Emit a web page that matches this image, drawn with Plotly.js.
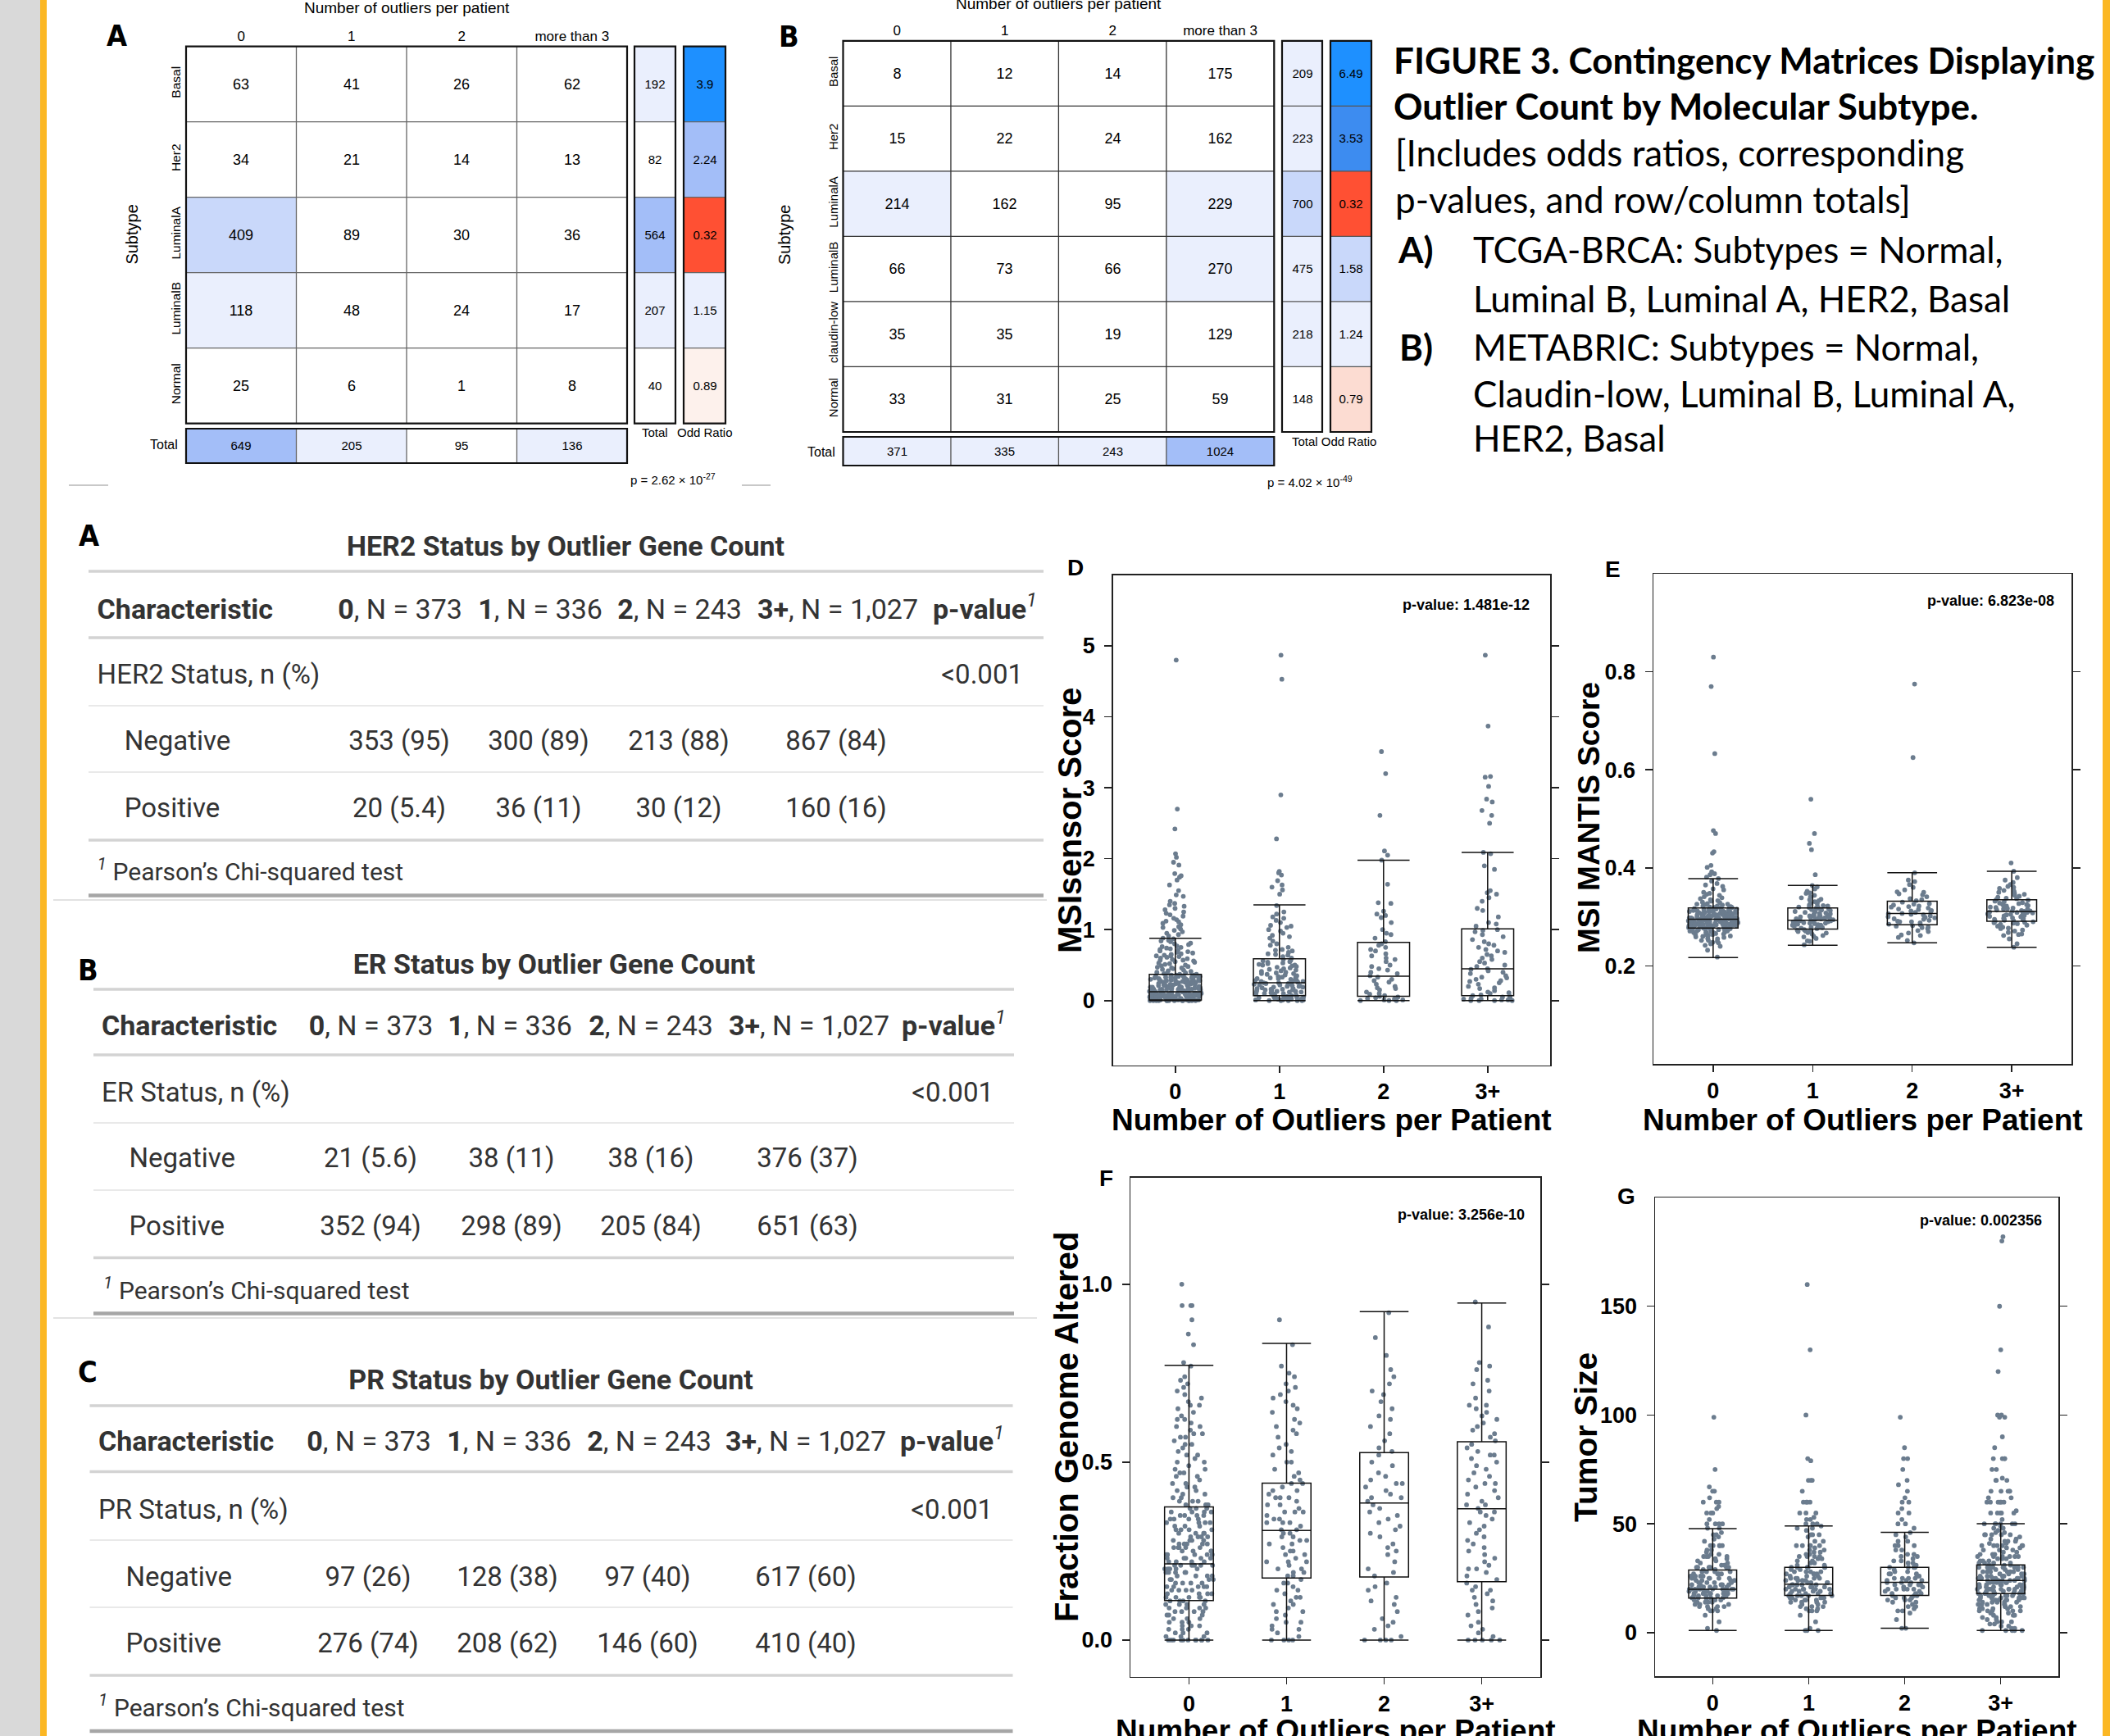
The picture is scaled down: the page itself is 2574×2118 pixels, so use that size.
<!DOCTYPE html>
<html><head><meta charset="utf-8">
<script src="https://cdn.plot.ly/plotly-3.0.1.min.js"></script>
<style>html,body{margin:0;padding:0;background:#fff;}#fig{width:2574px;height:2118px;}</style>
</head><body><div id="fig"></div>
<script>
// ======================= DATA =======================
// Contingency matrices
const outlierCols = ['0', '1', '2', 'more than 3'];
const subtypesA = ['Basal', 'Her2', 'LuminalA', 'LuminalB', 'Normal'];
const countsA = [[63, 41, 26, 62], [34, 21, 14, 13], [409, 89, 30, 36], [118, 48, 24, 17], [25, 6, 1, 8]];
const rowTotalsA = [192, 82, 564, 207, 40];
const colTotalsA = [649, 205, 95, 136];
const oddsA = [3.9, 2.24, 0.32, 1.15, 0.89];
const pTextA = 'p = 2.62 \u00d7 10<sup>-27</sup>';

const subtypesB = ['Basal', 'Her2', 'LuminalA', 'LuminalB', 'claudin-low', 'Normal'];
const countsB = [[8, 12, 14, 175], [15, 22, 24, 162], [214, 162, 95, 229], [66, 73, 66, 270], [35, 35, 19, 129], [33, 31, 25, 59]];
const rowTotalsB = [209, 223, 700, 475, 218, 148];
const colTotalsB = [371, 335, 243, 1024];
const oddsB = [6.49, 3.53, 0.32, 1.58, 1.24, 0.79];
const pTextB = 'p = 4.02 \u00d7 10<sup>-49</sup>';

// Summary tables
const tableHeaders = ['<b>0</b>, N = 373', '<b>1</b>, N = 336', '<b>2</b>, N = 243', '<b>3+</b>, N = 1,027'];
const her2Title = 'HER2 Status by Outlier Gene Count';
const her2Label = 'HER2 Status, n (%)';
const her2Neg = ['353 (95)', '300 (89)', '213 (88)', '867 (84)'];
const her2Pos = ['20 (5.4)', '36 (11)', '30 (12)', '160 (16)'];
const erTitle = 'ER Status by Outlier Gene Count';
const erLabel = 'ER Status, n (%)';
const erNeg = ['21 (5.6)', '38 (11)', '38 (16)', '376 (37)'];
const erPos = ['352 (94)', '298 (89)', '205 (84)', '651 (63)'];
const prTitle = 'PR Status by Outlier Gene Count';
const prLabel = 'PR Status, n (%)';
const prNeg = ['97 (26)', '128 (38)', '97 (40)', '617 (60)'];
const prPos = ['276 (74)', '208 (62)', '146 (60)', '410 (40)'];
const pvalTable = '&lt;0.001';

// Box plots
const boxCats = ['0', '1', '2', '3+'];
const msiD = [
  [0,0,0,0,0,0.01,0,0.02,0.04,0.01,0.03,0,0.06,0.02,0.09,0.05,0.11,0,0.03,0.07,0.01,0.13,0.04,0.08,0.02,0.15,0.1,0.06,0.18,0.12,0.01,0.21,0.14,0.05,0.24,0.17,0.09,0.27,0.11,0.19,0.3,0.07,0.22,0.33,0.13,0.26,0.36,0.16,0.29,0.03,0.38,0.2,0.32,0.12,0.35,0.25,0.08,0.37,0.28,0.02,0.05,0.1,0.14,0.19,0.23,0.31,0.06,0.16,0.04,0.09,0.26,0.18,0.41,0.15,0.44,0.34,0.48,0.23,0.52,0.39,0.56,0.46,0.61,0.5,0.65,0.43,0.69,0.58,0.73,0.54,0.77,0.63,0.81,0.67,0.85,0.72,0.6,0.79,0.88,0.93,0.97,0.91,1.01,0.95,1.04,0.99,1.07,1.12,1.03,1.16,1.09,1.21,1.14,1.25,1.19,1.3,1.33,1.28,1.37,1.4,1.47,1.49,1.55,1.63,1.7,1.74,1.76,1.79,1.91,1.95,2.02,2.07,2.42,2.7,4.8,
   0,0,0.01,0.02,0,0.03,0.05,0.04,0.07,0.06,0.1,0.08,0.12,0.11,0.14,0.13,0.17,0.15,0.2,0.18,0.22,0.21,0.25,0.24,0.28,0.27,0.31,0.3,0.34,0.33,0.36,0.02,0.09,0.16,0.23,0.29,0.35,0.01,0.04,0.12,0.19,0.26,0.32,0.39,0.45,0.51,0.57,0.64,0.7,0.75,0.83,0.47,0.55,0.62,0.68,0.74,0.87,1.11,1.23,1.35,
   0,0,0,0.01,0.02,0.03,0.04,0.05,0.06,0.07,0.08,0.09,0.11,0.13,0.15,0.17,0.19,0.21,0.23,0.25,0.27,0.29,0.31,0.33,0.35,0.37,0.02,0.06,0.1,0.14,0.18,0.22,0.26,0.3,0.34,0.4,0.42,0.46,0.49,0.53,0.57,0.59,0.63,0.66,0.71,0.76,0.8,0.84,0.01,0.05,0.09,0.12,0.16,0.2,0.24,0.28,0.32,0.36,0.03,0.07],
  [0,0,0.01,0,0.02,0.03,0.01,0.05,0.04,0.06,0.02,0.08,0.07,0.1,0.09,0.12,0.05,0.14,0.11,0.16,0.13,0.18,0.15,0.2,0.17,0.22,0.19,0.24,0.21,0.26,0.23,0.28,0.25,0.3,0.27,0.33,0.31,0.36,0.34,0.4,0.38,0.44,0.42,0.48,0.46,0.52,0.5,0.56,0.54,0.6,0.64,0.68,0.66,0.72,0.7,0.75,0.8,0.84,0.9,0.95,0.98,1.0,1.06,1.1,1.13,1.22,1.25,1.34,1.5,1.56,1.6,1.63,1.69,1.77,1.8,1.82,2.28,2.9,4.53,4.87,
   0,0.01,0.03,0.06,0.09,0.13,0.16,0.2,0.24,0.29,0.32,0.37,0.41,0.47,0.53,0.57,0.02,0.08,0.15,0.22,0.35,0.45,0.62,0.78,0.88,1.05,1.18,0.11,0.27,0.51,
   0.01,0.04,0.07,0.1,0.14,0.17,0.21,0.25,0.28,0.33,0.38,0.43,0.49,0.55,0.58,0,0.06,0.12,0.19,0.26,0.31,0.39,0.5,0.65,0.71,0.92,1.03,1.16,0.03,0.23],
  [0,0,0.01,0,0.02,0.03,0.01,0.05,0.04,0.07,0.06,0.1,0.12,0.09,0.15,0.18,0.2,0.17,0.23,0.26,0.28,0.3,0.33,0.35,0.38,0.4,0.43,0.45,0.5,0.48,0.55,0.58,0.6,0.63,0.66,0.7,0.72,0.75,0.78,0.8,0.83,0.88,0.93,0.95,1.0,1.1,1.17,1.2,1.22,1.26,1.37,1.38,1.64,1.98,2.05,2.11,2.61,3.2,3.51],
  [0,0,0,0.01,0.02,0,0.03,0.01,0.04,0.05,0.02,0.06,0.08,0.07,0.1,0.12,0.14,0.11,0.17,0.2,0.18,0.23,0.25,0.28,0.27,0.3,0.32,0.35,0.33,0.38,0.4,0.42,0.45,0.44,0.48,0.5,0.53,0.55,0.58,0.6,0.63,0.65,0.68,0.7,0.72,0.75,0.78,0.8,0.83,0.86,0.9,0.93,0.97,0.99,1.0,1.05,1.08,1.1,1.18,1.27,1.3,1.4,1.45,1.5,1.52,1.55,1.85,1.9,2.07,2.09,2.5,2.61,2.68,2.8,2.84,3.02,3.15,3.16,3.87,4.87]
];
const msiDStats = {q1: [0.01, 0.07, 0.06, 0.07], med: [0.125, 0.25, 0.343, 0.447], q3: [0.37, 0.59, 0.82, 1.01], lo: [0, 0, 0, 0], hi: [0.877, 1.35, 1.98, 2.09]};

const mantisE = [
  [0.281,0.292,0.305,0.274,0.298,0.312,0.267,0.288,0.301,0.319,0.279,0.295,0.262,0.308,0.285,0.326,0.271,0.297,0.314,0.283,0.256,0.302,0.29,0.333,0.277,0.309,0.294,0.268,0.317,0.286,0.299,0.341,0.273,0.305,0.291,0.25,0.322,0.282,0.296,0.311,0.264,0.289,0.303,0.348,0.276,0.293,0.316,0.28,0.259,0.307,0.287,0.33,0.27,0.3,0.313,0.284,0.295,0.355,0.245,0.297,0.321,0.278,0.31,0.289,0.266,0.304,0.337,0.292,0.275,0.318,0.286,0.301,0.252,0.362,0.283,0.296,0.309,0.271,0.324,0.293,0.28,0.306,0.261,0.315,0.29,0.344,0.277,0.299,0.312,0.242,0.287,0.303,0.327,0.269,0.294,0.32,0.282,0.368,0.298,0.274,0.308,0.255,0.291,0.335,0.285,0.302,0.264,0.316,0.373,0.288,0.297,0.279,0.31,0.248,0.35,0.293,0.232,0.218,0.378,0.381,0.386,0.388,0.392,0.401,0.405,0.43,0.433,0.47,0.476,0.633,0.77,0.83,
   0.272,0.284,0.296,0.303,0.311,0.279,0.291,0.299,0.287,0.306,0.263,0.275,0.314,0.322,0.268,0.29,0.298,0.283,0.301,0.309,0.258,0.277,0.294,0.317,0.329,0.286,0.293,0.304,0.271,0.281,0.296,0.312,0.339,0.252,0.288,0.3,0.307,0.319,0.265,0.276,0.292,0.285,0.297,0.31,0.325,0.346,0.26,0.274,0.289,0.302,0.315,0.357,0.247,0.282,0.295,0.305,0.32,0.332,0.268,0.279,0.291,0.298,0.308,0.287,0.301,0.313,0.326,0.365,0.24,0.296],
  [0.243,0.251,0.256,0.262,0.265,0.268,0.271,0.273,0.276,0.274,0.279,0.281,0.278,0.284,0.286,0.283,0.288,0.29,0.287,0.292,0.294,0.291,0.296,0.293,0.298,0.295,0.301,0.299,0.303,0.306,0.302,0.308,0.311,0.305,0.313,0.316,0.31,0.318,0.321,0.315,0.324,0.319,0.327,0.331,0.322,0.335,0.339,0.328,0.344,0.348,0.336,0.352,0.357,0.361,0.364,0.27,0.282,0.297,0.309,0.259,0.289,0.3,0.386,0.437,0.45,0.47,0.54,
   0.26,0.272,0.28,0.287,0.294,0.3,0.307,0.314,0.32,0.267,0.277,0.285,0.292,0.298,0.304,0.311,0.323,0.333,0.341,0.25,0.283,0.29,0.296,0.302,0.317,0.349],
  [0.247,0.252,0.258,0.263,0.267,0.272,0.276,0.279,0.282,0.285,0.288,0.284,0.29,0.293,0.296,0.299,0.295,0.302,0.305,0.307,0.304,0.31,0.312,0.309,0.315,0.318,0.321,0.316,0.324,0.327,0.33,0.326,0.333,0.337,0.341,0.345,0.351,0.355,0.36,0.347,0.366,0.372,0.39,0.375,0.291,0.3,0.32,0.281,0.625,0.775,
   0.262,0.278,0.29,0.298,0.306,0.313,0.322,0.335,0.35,0.27],
  [0.238,0.255,0.262,0.268,0.273,0.277,0.281,0.285,0.288,0.291,0.289,0.294,0.297,0.293,0.3,0.303,0.306,0.302,0.309,0.311,0.308,0.314,0.312,0.317,0.32,0.316,0.323,0.326,0.322,0.329,0.332,0.335,0.331,0.338,0.342,0.346,0.35,0.354,0.358,0.362,0.366,0.37,0.375,0.38,0.393,0.41,0.298,0.305,0.318,0.327,0.283,0.296,0.313,0.34,0.264,0.352,0.31,0.301,0.325,0.287,0.271,0.308,0.334,0.292,0.319,
   0.265,0.279,0.29,0.297,0.304,0.312,0.319,0.328,0.337,0.348,0.276,0.286,0.295,0.302,0.309,0.316,0.324,0.344,0.36,0.245]
];
const mantisEStats = {q1: [0.277, 0.275, 0.284, 0.291], med: [0.295, 0.293, 0.307, 0.311], q3: [0.318, 0.318, 0.332, 0.335], lo: [0.217, 0.242, 0.247, 0.238], hi: [0.378, 0.364, 0.39, 0.393]};

const fgaF = [
  [0,0,0,0,0,0,0,0,0.01,0.02,0.01,0.03,0.04,0.02,0.05,0.06,0.04,0.07,0.08,0.06,0.09,0.1,0.08,0.11,0.12,0.1,0.13,0.11,0.14,0.15,0.12,0.16,0.17,0.13,0.18,0.19,0.15,0.2,0.21,0.17,0.22,0.19,0.23,0.21,0.24,0.22,0.25,0.2,0.26,0.24,0.27,0.23,0.28,0.26,0.29,0.25,0.3,0.28,0.31,0.27,0.32,0.3,0.33,0.29,0.34,0.32,0.35,0.31,0.36,0.34,0.37,0.33,0.38,0.36,0.39,0.35,0.41,0.38,0.42,0.4,0.44,0.43,0.45,0.47,0.46,0.49,0.48,0.51,0.5,0.53,0.55,0.52,0.57,0.56,0.59,0.58,0.61,0.6,0.63,0.65,0.62,0.67,0.66,0.69,0.72,0.71,0.74,0.77,0.78,0.83,0.86,0.9,0.94,0.94,0.94,1.0,0.14,0.18,0.09,0.21,0.16,0.12,0.24,0.2,0.07,0.27,
   0,0,0,0.01,0.03,0.05,0.07,0.02,0.09,0.11,0.13,0.1,0.15,0.16,0.18,0.14,0.19,0.21,0.2,0.23,0.22,0.25,0.24,0.26,0.27,0.29,0.28,0.31,0.3,0.33,0.32,0.35,0.34,0.37,0.36,0.39,0.38,0.4,0.43,0.42,0.12,0.17,0.21,0.08,0.23,0.26,0.18,0.15,0.06,0.11,0.19,0.24,0.29,0.13,0.04,0.22,0.16,0.27,0.31,0.35,0.44,0.48,0.5,0.54,0.57,0.6,0.64,0.68,0.7,0.73,0.46,0.52,0.41,0.37,0.33,0.25,0.2,0.14,0.09,0.03,0.58,0.62,0.66,0.55,0.47,0.39,0.28,0.17,0.12,0.05,0.21,0.23,0.19,0.26,0.3,0.34,0.36,0.1,0.08,0.15],
  [0,0,0,0,0.01,0.02,0.03,0.05,0.04,0.06,0.08,0.07,0.1,0.09,0.12,0.11,0.13,0.15,0.14,0.16,0.18,0.17,0.19,0.2,0.21,0.22,0.24,0.23,0.25,0.26,0.27,0.28,0.29,0.3,0.31,0.3,0.32,0.33,0.34,0.35,0.36,0.37,0.38,0.39,0.4,0.41,0.42,0.43,0.44,0.45,0.46,0.48,0.5,0.52,0.54,0.55,0.57,0.58,0.6,0.62,0.64,0.65,0.67,0.68,0.7,0.72,0.74,0.75,0.77,0.83,0.9,0.27,0.33,0.36,0.22,0.19,0.4,
   0.03,0.08,0.12,0.16,0.2,0.24,0.28,0.31,0.34,0.38,0.42,0.47,0.53,0.59,0.66,0.71,0.14,0.22,0.29,0.36,0.44,0.25,0.33,0.4,0.18,0.1,0.05,0.5,0.61,0.69],
  [0,0,0,0,0.01,0.03,0.05,0.06,0.08,0.1,0.12,0.14,0.16,0.18,0.2,0.22,0.24,0.27,0.29,0.31,0.33,0.35,0.36,0.37,0.38,0.39,0.4,0.41,0.42,0.43,0.45,0.46,0.47,0.5,0.52,0.53,0.54,0.58,0.6,0.63,0.65,0.67,0.7,0.72,0.76,0.8,0.85,0.92,0.3,0.34,0.44,0.25,0.15,
   0.04,0.11,0.19,0.26,0.32,0.4,0.44,0.49,0.56,0.62,0.69,0.74],
  [0,0,0,0,0,0.01,0.03,0.05,0.07,0.09,0.11,0.12,0.14,0.15,0.16,0.17,0.18,0.2,0.22,0.24,0.26,0.28,0.3,0.31,0.33,0.35,0.36,0.37,0.38,0.39,0.4,0.42,0.44,0.45,0.46,0.48,0.5,0.51,0.52,0.54,0.55,0.56,0.58,0.6,0.61,0.63,0.64,0.66,0.68,0.7,0.73,0.76,0.77,0.78,0.88,0.95,0.19,0.29,0.41,0.49,0.53,0.27,0.34,0.62,0.13,0.21,
   0.02,0.08,0.14,0.2,0.25,0.32,0.38,0.43,0.47,0.52,0.57,0.65,0.72,0.1,0.23,0.36,0.44,0.59,0.66,0.04]
];
const fgaFStats = {q1: [0.111, 0.174, 0.177, 0.164], med: [0.214, 0.308, 0.385, 0.369], q3: [0.374, 0.441, 0.527, 0.557], lo: [0, 0, 0, 0], hi: [0.772, 0.834, 0.923, 0.947]};

const tumorG = [
  [1,2,5,8,10,10,11,12,12,13,13,14,14,15,15,15,16,16,16,17,17,17,18,18,18,18,19,19,19,20,20,20,20,20,21,21,21,22,22,22,23,23,24,24,25,25,25,25,26,26,27,27,28,28,29,30,30,30,31,32,33,34,35,35,36,37,38,40,40,40,42,43,45,46,48,50,50,50,50,52,55,55,57,60,60,62,65,65,67,75,99,
   12,14,15,16,17,18,18,19,19,20,20,21,22,23,24,25,26,28,30,32,35,38,40,45,13,15,17,19,20,22,24,26,28,30,33,36,10,12,16,18,21,25,27,29,31,35,40,44,48,55,58,60,11,14,17,20,23,27,30,34],
  [1,1,1,2,5,8,10,10,11,12,12,13,14,14,15,15,16,16,17,17,17,18,18,19,19,20,20,20,21,21,22,22,22,23,23,24,24,25,25,25,26,27,27,28,28,29,30,30,30,31,32,33,34,35,35,36,37,38,39,40,40,40,42,44,45,47,48,49,50,50,52,53,55,55,60,60,60,70,70,79,80,100,130,160,
   10,12,14,15,16,17,18,19,20,20,21,22,23,24,25,26,27,28,30,30,32,35,38,40,45,50,13,15,18,20,22,25,28,30,33,36,40,42,45,48,11,16,19,21,24,26,29,31,34,37,55,60,65,70,52,14,17,23,27,35],
  [2,2,6,9,10,10,11,12,13,14,15,15,16,16,17,17,18,18,19,20,20,20,21,22,22,23,23,24,24,25,25,26,27,27,28,29,30,30,31,32,33,34,35,36,38,40,40,42,44,46,50,50,52,55,55,57,60,60,62,65,68,70,75,80,80,85,99,
   12,14,16,18,19,20,21,22,23,24,25,26,28,30,32,35,38,40,15,17,20,22,25,27,30,33,36,42,45,48],
  [1,1,1,2,3,4,5,5,6,7,8,9,10,10,10,11,11,12,12,13,13,14,14,15,15,15,16,16,16,17,17,17,18,18,18,19,19,19,20,20,20,20,21,21,21,22,22,22,23,23,23,24,24,24,25,25,25,25,26,26,26,27,27,28,28,29,29,30,30,30,30,31,31,32,33,34,35,35,36,37,38,39,40,40,40,41,42,43,45,45,46,48,49,50,50,50,52,55,55,55,56,60,60,60,60,62,65,65,65,70,70,71,75,80,80,80,85,90,99,99,100,100,120,130,150,180,182,
   5,8,10,12,13,14,15,16,17,18,19,20,20,21,22,23,24,25,25,26,27,28,29,30,31,32,33,34,35,36,38,40,42,45,48,50,11,13,15,17,18,20,21,22,24,25,27,28,30,32,34,35,38,40,43,46,9,12,14,16,18,19,21,23,24,26,28,30,33,36,39,41,44,47,50,55,60,65,7,10,13,16,19,22,25,28,31,35,40,45,50,55,60,62,65,70,75,80,6,14,18,20,23,26,29,32,37,42,2,3,4,1,1,8,11,15,17,22,25,30,35,45]
];
const tumorGStats = {q1: [15.9, 17.1, 17.1, 18], med: [19.9, 22.3, 23.1, 24], q3: [28.8, 30, 30, 31.1], lo: [1, 1, 2, 1], hi: [47.8, 49, 46.1, 50.1]};

// ======================= HELPERS / STYLE =======================
const W = 2574, H = 2118;
const ARIAL = 'Liberation Sans, Arial, sans-serif';
const NARROW = 'Liberation Sans Narrow, DejaVu Sans Condensed, Liberation Sans, sans-serif';
const px = x => x / W;
const py = y => 1 - y / H;
const xd = (a, b) => [a / W, b / W];
const yd = (t, b) => [1 - b / H, 1 - t / H];

const WHITE = '#ffffff', VL = '#eaeffd', LB = '#c9d8fa', MB = '#a3bef8';
function stepScale(zmin, zmax, bands) {
  const cs = []; let lo = 0;
  bands.forEach(([ub, c], i) => {
    const hi = i === bands.length - 1 ? 1 : (ub - zmin) / (zmax - zmin);
    cs.push([lo, c], [hi, c]); lo = hi;
  });
  return cs;
}
function heat(z, xa, ya, scale, zmin, zmax, fs) {
  return {type: 'heatmap', z: z, text: z.map(r => r.map(v => String(v))), texttemplate: '%{text}',
    textfont: {family: ARIAL, size: fs, color: '#000'}, colorscale: scale, zmin: zmin, zmax: zmax,
    showscale: false, xaxis: xa, yaxis: ya, hoverinfo: 'skip'};
}
const col = arr => arr.map(v => [v]);

function grid(xa, ya, ncol, nrow, inner, outerW) {
  const s = [];
  for (let i = 1; i < ncol; i++) s.push({type: 'line', xref: xa, yref: ya + ' domain', x0: i - 0.5, x1: i - 0.5, y0: 0, y1: 1, line: {color: inner, width: 1.3}});
  for (let j = 1; j < nrow; j++) s.push({type: 'line', xref: xa + ' domain', yref: ya, x0: 0, x1: 1, y0: j - 0.5, y1: j - 0.5, line: {color: inner, width: 1.3}});
  s.push({type: 'rect', xref: xa + ' domain', yref: ya + ' domain', x0: 0, x1: 1, y0: 0, y1: 1, line: {color: '#111', width: outerW}});
  return s;
}
function hax(domain, anchor, extra) {
  return Object.assign({domain: domain, anchor: anchor, showgrid: false, zeroline: false, showline: false,
    ticks: '', showticklabels: false, fixedrange: true}, extra || {});
}
function ann(text, x, y, o) {
  const a = {text: text, x: px(x), y: py(y), xref: 'paper', yref: 'paper', showarrow: false,
    xanchor: 'center', yanchor: 'middle', font: {family: ARIAL, size: 18, color: '#000'}};
  return Object.assign(a, o || {});
}

// ======================= TRACES =======================
const traces = [];
const shapes = [];
const annotations = [];

// --- Matrix A ---
traces.push(heat(countsA, 'x', 'y', stepScale(0, 409, [[100, WHITE], [300, VL], [409, LB]]), 0, 409, 18));
traces.push(heat(col(rowTotalsA), 'x2', 'y', stepScale(0, 564, [[100, WHITE], [500, VL], [564, MB]]), 0, 564, 15));
traces.push(heat(col(oddsA), 'x3', 'y', stepScale(0, 3.9, [[0.5, '#ff5033'], [1.0, '#fdf1ec'], [1.5, VL], [3, MB], [3.9, '#1e90ff']]), 0, 3.9, 15));
traces.push(heat([colTotalsA], 'x4', 'y2', stepScale(0, 649, [[100, WHITE], [500, VL], [649, MB]]), 0, 649, 15));
shapes.push(...grid('x', 'y', 4, 5, '#666', 2.2));
shapes.push(...grid('x2', 'y', 1, 5, '#666', 2.2));
shapes.push(...grid('x3', 'y', 1, 5, '#666', 2.2));
shapes.push(...grid('x4', 'y2', 4, 1, '#666', 2.2));

// --- Matrix B ---
traces.push(heat(countsB, 'x5', 'y3', stepScale(0, 270, [[200, WHITE], [270, VL]]), 0, 270, 18));
traces.push(heat(col(rowTotalsB), 'x6', 'y3', stepScale(0, 700, [[200, WHITE], [600, VL], [700, LB]]), 0, 700, 15));
traces.push(heat(col(oddsB), 'x7', 'y3', stepScale(0, 6.49, [[0.5, '#ff5033'], [1.0, '#fcdcd2'], [1.4, VL], [2.5, LB], [5, '#3d8cf0'], [6.49, '#1e90ff']]), 0, 6.49, 15));
traces.push(heat([colTotalsB], 'x8', 'y4', stepScale(0, 1024, [[1000, VL], [1024, MB]]), 0, 1024, 15));
shapes.push(...grid('x5', 'y3', 4, 6, '#333', 2.2));
shapes.push(...grid('x6', 'y3', 1, 6, '#555', 2.2));
shapes.push(...grid('x7', 'y3', 1, 6, '#555', 2.2));
shapes.push(...grid('x8', 'y4', 4, 1, '#555', 2.2));

// --- Tables (text drawn as a text trace on a page-sized axis) ---
const tableSpecs = [
  {title: her2Title, label: her2Label, neg: her2Neg, pos: her2Pos,
   titleX: 690, titleY: 666, headY: 742.6, statusY: 822, negY: 903.5, posY: 985, footY: 1063,
   charX: 118.6, indentX: 151.7, footX: 118.6, colX: [488, 659, 829, 1022], valX: [487, 657, 828, 1020], pHeadX: 1265, pValX: 1248,
   x0: 108, x1: 1273, lines: [[697, 3.5, '#d3d3d3'], [778, 3.5, '#d3d3d3'], [861, 1.5, '#e2e2e2'], [942, 1.5, '#e2e2e2'], [1025, 3.5, '#d3d3d3'], [1092.5, 4.5, '#a6a6a6']]},
  {title: erTitle, label: erLabel, neg: erNeg, pos: erPos,
   titleX: 676, titleY: 1176, headY: 1251, statusY: 1332, negY: 1412, posY: 1495, footY: 1574,
   charX: 124, indentX: 157.5, footX: 126, colX: [452.6, 622, 794, 987], valX: [452, 624, 794, 985], pHeadX: 1227, pValX: 1212,
   x0: 114, x1: 1237, lines: [[1207, 3.5, '#d3d3d3'], [1287, 3.5, '#d3d3d3'], [1370, 1.5, '#e2e2e2'], [1452, 1.5, '#e2e2e2'], [1534.5, 3.5, '#d3d3d3'], [1602.5, 4.5, '#a6a6a6']]},
  {title: prTitle, label: prLabel, neg: prNeg, pos: prPos,
   titleX: 672, titleY: 1683, headY: 1758.5, statusY: 1841, negY: 1923, posY: 2004, footY: 2083,
   charX: 120, indentX: 153.4, footX: 120, colX: [450, 621, 792, 983], valX: [449, 619, 790, 983], pHeadX: 1225, pValX: 1211,
   x0: 109.5, x1: 1235.5, lines: [[1715, 3.5, '#d3d3d3'], [1795.5, 3.5, '#d3d3d3'], [1879, 1.5, '#e2e2e2'], [1961, 1.5, '#e2e2e2'], [2044, 3.5, '#d3d3d3'], [2112, 4.5, '#a6a6a6']]}
];
tableSpecs.forEach(s => {
  const xs = [], ys = [], ts = [], ps = [], fs = [];
  const add = (x, y, t, p, f) => { xs.push(x); ys.push(y + f * 0.1); ts.push(t); ps.push(p); fs.push(f); };
  add(s.titleX, s.titleY, '<b>' + s.title + '</b>', 'middle center', 34);
  add(s.charX, s.headY, '<b>Characteristic</b>', 'middle right', 34);
  tableHeaders.forEach((h, i) => add(s.colX[i], s.headY, h, 'middle center', 34));
  add(s.pHeadX, s.headY, '<b>p-value</b><sup><i>1</i></sup>', 'middle left', 34);
  add(s.charX, s.statusY, s.label, 'middle right', 33);
  add(s.pValX, s.statusY, pvalTable, 'middle left', 33);
  add(s.indentX, s.negY, 'Negative', 'middle right', 33);
  s.neg.forEach((v, i) => add(s.valX[i], s.negY, v, 'middle center', 33));
  add(s.indentX, s.posY, 'Positive', 'middle right', 33);
  s.pos.forEach((v, i) => add(s.valX[i], s.posY, v, 'middle center', 33));
  add(s.footX, s.footY, '<sup><i>1</i></sup> Pearson\u2019s Chi-squared test', 'middle right', 30);
  traces.push({type: 'scatter', mode: 'text', x: xs, y: ys, text: ts, textposition: ps,
    textfont: {family: 'Roboto, sans-serif', size: fs, color: '#333333'}, xaxis: 'x9', yaxis: 'y5',
    hoverinfo: 'skip', showlegend: false, cliponaxis: false});
  s.lines.forEach(([y, w, c]) => shapes.push({type: 'line', xref: 'x9', yref: 'y5', x0: s.x0, x1: s.x1, y0: y, y1: y, line: {color: c, width: w}}));
});

// --- Box plots ---
const PT = '#6b7c8e';
function boxPanel(xa, ya, groups, st) {
  const xs = [], ys = [];
  groups.forEach((g, i) => g.forEach(v => { xs.push(boxCats[i]); ys.push(v); }));
  traces.push({type: 'box', x: xs, y: ys, xaxis: xa, yaxis: ya, boxpoints: 'all', jitter: 1.0, pointpos: 0, width: 0.5,
    marker: {color: PT, size: 5.8}, line: {width: 0, color: 'rgba(0,0,0,0)'}, fillcolor: 'rgba(0,0,0,0)', hoverinfo: 'skip', showlegend: false});
  traces.push({type: 'box', x: boxCats, q1: st.q1, median: st.med, q3: st.q3, lowerfence: st.lo, upperfence: st.hi,
    xaxis: xa, yaxis: ya, boxpoints: false, width: 0.5, whiskerwidth: 1, line: {color: '#111', width: 1.5},
    fillcolor: 'rgba(0,0,0,0)', hoverinfo: 'skip', showlegend: false});
}
boxPanel('x10', 'y6', msiD, msiDStats);
boxPanel('x11', 'y7', mantisE, mantisEStats);
boxPanel('x12', 'y8', fgaF, fgaFStats);
boxPanel('x13', 'y9', tumorG, tumorGStats);

const tickF = () => ({family: ARIAL, size: 27, color: '#000', weight: 'bold'});
function bx(domain, anchor) {
  return {domain: domain, anchor: anchor, type: 'category', categoryorder: 'array', categoryarray: boxCats,
    range: [-0.6, 3.6], showline: true, mirror: true, linecolor: '#222', linewidth: 1.5, ticks: 'outside',
    ticklen: 8, tickwidth: 1.5, tickcolor: '#222', tickfont: tickF(), ticklabelstandoff: 0,
    showgrid: false, zeroline: false, fixedrange: true};
}
function by(domain, anchor, range, tickvals, ticktext) {
  const a = {domain: domain, anchor: anchor, range: range, tickvals: tickvals, showline: true, mirror: 'ticks',
    linecolor: '#222', linewidth: 1.5, ticks: 'outside', ticklen: 9, tickwidth: 1.5, tickcolor: '#222',
    tickfont: tickF(), ticklabelstandoff: 6, showgrid: false, zeroline: false, fixedrange: true};
  if (ticktext) a.ticktext = ticktext;
  return a;
}

// ======================= LAYOUT =======================
const layout = {
  width: W, height: H, margin: {l: 0, r: 0, t: 0, b: 0}, paper_bgcolor: '#ffffff', plot_bgcolor: 'rgba(0,0,0,0)',
  showlegend: false, hovermode: false, boxmode: 'overlay', font: {family: ARIAL, color: '#000'},
  // Matrix A
  xaxis: hax(xd(227, 765), 'y', {side: 'top', range: [-0.5, 3.5], tickvals: [0, 1, 2, 3], ticktext: outlierCols, showticklabels: true, tickfont: {family: ARIAL, size: 17, color: '#000'}, ticklabelstandoff: 2}),
  yaxis: hax(yd(56.6, 516.6), 'x', {range: [4.5, -0.5], tickvals: [0, 1, 2, 3, 4], ticktext: subtypesA, showticklabels: true, tickangle: -90, tickfont: {family: ARIAL, size: 15.5, color: '#000'}, ticklabelstandoff: 3}),
  xaxis2: hax(xd(774, 824), 'y', {range: [-0.5, 0.5]}),
  xaxis3: hax(xd(834, 885), 'y', {range: [-0.5, 0.5]}),
  xaxis4: hax(xd(227, 765), 'y2', {range: [-0.5, 3.5]}),
  yaxis2: hax(yd(523, 565), 'x4', {range: [-0.5, 0.5]}),
  // Matrix B
  xaxis5: hax(xd(1028.5, 1554.3), 'y3', {side: 'top', range: [-0.5, 3.5], tickvals: [0, 1, 2, 3], ticktext: outlierCols, showticklabels: true, tickfont: {family: ARIAL, size: 17, color: '#000'}, ticklabelstandoff: 2}),
  yaxis3: hax(yd(49.8, 527), 'x5', {range: [5.5, -0.5], tickvals: [0, 1, 2, 3, 4, 5], ticktext: subtypesB, showticklabels: true, tickangle: -90, tickfont: {family: ARIAL, size: 15, color: '#000'}, ticklabelstandoff: 3}),
  xaxis6: hax(xd(1564, 1613), 'y3', {range: [-0.5, 0.5]}),
  xaxis7: hax(xd(1623, 1673), 'y3', {range: [-0.5, 0.5]}),
  xaxis8: hax(xd(1028.5, 1554.3), 'y4', {range: [-0.5, 3.5]}),
  yaxis4: hax(yd(533, 568), 'x8', {range: [-0.5, 0.5]}),
  // Page axis for tables
  xaxis9: {domain: [0, 1], anchor: 'y5', range: [0, W], visible: false, fixedrange: true},
  yaxis5: {domain: [0, 1], anchor: 'x9', range: [H, 0], visible: false, fixedrange: true},
  // Box plots
  xaxis10: bx(xd(1357.6, 1891), 'y6'),
  yaxis6: by(yd(701.5, 1299.5), 'x10', [-0.91, 6.0], [0, 1, 2, 3, 4, 5]),
  xaxis11: bx(xd(2017, 2527), 'y7'),
  yaxis7: by(yd(700, 1298), 'x11', [0, 1.0], [0.2, 0.4, 0.6, 0.8], ['0.2', '0.4', '0.6', '0.8']),
  xaxis12: bx(xd(1379, 1879), 'y8'),
  yaxis8: by(yd(1436.6, 2045.6), 'x12', [-0.103, 1.30], [0, 0.5, 1.0], ['0.0', '0.5', '1.0']),
  xaxis13: bx(xd(2019, 2511), 'y9'),
  yaxis9: by(yd(1461, 2045), 'x13', [-20, 200], [0, 50, 100, 150]),
  shapes: shapes,
  annotations: annotations
};

// Decorative poster frame
const deco = [
  {x0: 0, x1: 49, y0: 0, y1: H, c: '#d9d9d9'},
  {x0: 49, x1: 57, y0: 0, y1: H, c: '#fbb724'},
  {x0: 2565, x1: W, y0: 0, y1: H, c: '#fbb724'}
];
deco.forEach(d => shapes.push({type: 'rect', xref: 'paper', yref: 'paper', x0: px(d.x0), x1: px(d.x1), y0: py(d.y1), y1: py(d.y0), fillcolor: d.c, line: {width: 0}, layer: 'below'}));
[[84, 132, 592, '#c8c8c8'], [905, 940, 592, '#c8c8c8'], [65, 1277, 1098, '#e2e2e2'], [65, 1265, 1608, '#e2e2e2']].forEach(([a, b, y, c]) =>
  shapes.push({type: 'line', xref: 'paper', yref: 'paper', x0: px(a), x1: px(b), y0: py(y), y1: py(y), line: {color: c, width: 2}}));

// Matrix annotations
annotations.push(ann('Number of outliers per patient', 496, 9, {font: {family: ARIAL, size: 19, color: '#000'}}));
annotations.push(ann('Subtype', 160.6, 286, {textangle: -90, font: {family: ARIAL, size: 20, color: '#000'}}));
annotations.push(ann('Total', 219, 543, {xanchor: 'right', font: {family: ARIAL, size: 16, color: '#000'}}));
annotations.push(ann('Total', 799, 528, {font: {family: ARIAL, size: 15, color: '#000'}}));
annotations.push(ann('Odd Ratio', 860, 528, {font: {family: ARIAL, size: 15, color: '#000'}}));
annotations.push(ann(pTextA, 767, 585, {xanchor: 'left', font: {family: ARIAL, size: 15, color: '#000'}}));
annotations.push(ann('<b>A</b>', 142, 44, {font: {family: NARROW, size: 36, color: '#000'}}));

annotations.push(ann('Number of outliers per patient', 1291, 5, {font: {family: ARIAL, size: 19, color: '#000'}}));
annotations.push(ann('Subtype', 957, 287, {textangle: -90, font: {family: ARIAL, size: 20, color: '#000'}}));
annotations.push(ann('Total', 1020.5, 551, {xanchor: 'right', font: {family: ARIAL, size: 16, color: '#000'}}));
annotations.push(ann('Total Odd Ratio', 1627, 538, {font: {family: ARIAL, size: 15, color: '#000'}}));
annotations.push(ann(pTextB, 1544, 587.5, {xanchor: 'left', font: {family: ARIAL, size: 15, color: '#000'}}));
annotations.push(ann('<b>B</b>', 962, 44.5, {font: {family: NARROW, size: 36, color: '#000'}}));

// Table panel letters
[['A', 108, 653], ['B', 107, 1183], ['C', 107, 1673]].forEach(([t, x, y]) =>
  annotations.push(ann('<b>' + t + '</b>', x, y, {font: {family: NARROW, size: 36, color: '#000'}})));

// Figure caption
const LATO = 'Lato, Open Sans, sans-serif';
const cap = [
  ['<b>FIGURE 3. Contingency Matrices Displaying</b>', 1698, 73],
  ['<b>Outlier Count by Molecular Subtype.</b>', 1698, 129],
  ['[Includes odds ratios, corresponding', 1700, 186],
  ['p-values, and row/column totals]', 1700, 243],
  ['<b>A)</b>', 1703, 304], ['TCGA-BRCA: Subtypes = Normal,', 1795, 304],
  ['Luminal B, Luminal A, HER2, Basal', 1795, 364],
  ['<b>B)</b>', 1705, 423], ['METABRIC: Subtypes = Normal,', 1795, 423],
  ['Claudin-low, Luminal B, Luminal A,', 1795, 480],
  ['HER2, Basal', 1795, 534]
];
cap.forEach(([t, x, y]) => annotations.push(ann(t, x, y, {xanchor: 'left', font: {family: LATO, size: 44, color: '#000'}})));

// Box plot annotations
const boxLabels = [
  {letter: 'D', lx: 1312, ly: 693, yt: 'MSIsensor Score', ytx: 1305, yty: 1001, yts: 40, xtx: 1624, xty: 1366, p: 'p-value: 1.481e-12', prx: 1868, pry: 738},
  {letter: 'E', lx: 1967, ly: 694, yt: 'MSI MANTIS Score', ytx: 1938, yty: 998, yts: 37, xtx: 2272, xty: 1366, p: 'p-value: 6.823e-08', prx: 2508, pry: 733},
  {letter: 'F', lx: 1349, ly: 1437, yt: 'Fraction Genome Altered', ytx: 1301, yty: 1741, yts: 40, xtx: 1629, xty: 2111, p: 'p-value: 3.256e-10', prx: 1862, pry: 1482},
  {letter: 'G', lx: 1984, ly: 1459, yt: 'Tumor Size', ytx: 1934, yty: 1753, yts: 39, xtx: 2265, xty: 2111, p: 'p-value: 0.002356', prx: 2493, pry: 1489}
];
boxLabels.forEach(b => {
  annotations.push(ann('<b>' + b.letter + '</b>', b.lx, b.ly, {font: {family: ARIAL, size: 28, color: '#000'}}));
  annotations.push(ann('<b>' + b.yt + '</b>', b.ytx, b.yty, {textangle: -90, font: {family: ARIAL, size: b.yts, color: '#000'}}));
  annotations.push(ann('<b>Number of Outliers per Patient</b>', b.xtx, b.xty, {font: {family: ARIAL, size: 37, color: '#000'}}));
  annotations.push(ann('<b>' + b.p + '</b>', b.prx, b.pry, {xanchor: 'right', font: {family: ARIAL, size: 18, color: '#000'}}));
});

Plotly.newPlot('fig', traces, layout, {staticPlot: true, displayModeBar: false});
</script>
</body></html>
